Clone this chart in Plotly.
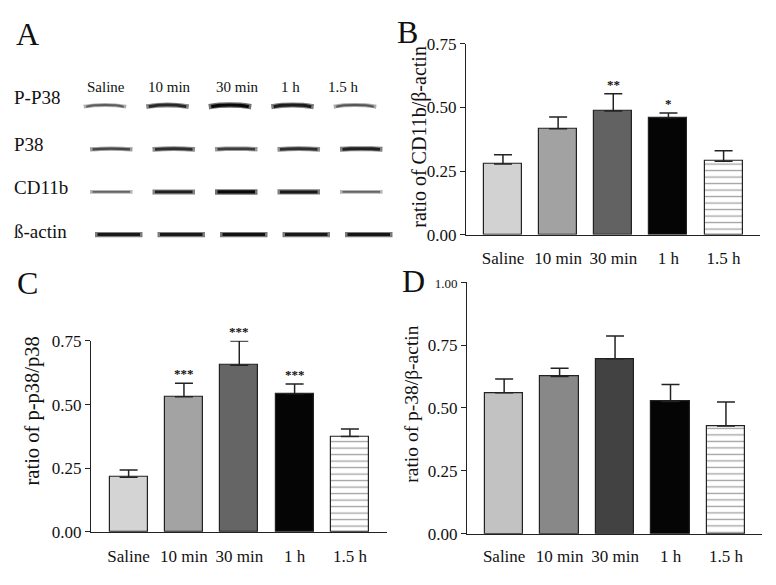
import plotly.graph_objects as go

# ---------------- data ----------------
groups = ["Saline", "10 min", "30 min", "1 h", "1.5 h"]

# Panel B: ratio of CD11b/β-actin
b_mean = [0.278, 0.416, 0.486, 0.460, 0.289]
b_sem = [0.036, 0.047, 0.068, 0.018, 0.041]
b_sig = ["", "", "**", "*", ""]

# Panel C: ratio of p-p38/p38
c_mean = [0.215, 0.531, 0.654, 0.542, 0.375]
c_sem = [0.028, 0.053, 0.095, 0.039, 0.029]
c_sig = ["", "***", "***", "***", ""]

# Panel D: ratio of p-38/β-actin
d_mean = [0.560, 0.625, 0.695, 0.525, 0.428]
d_sem = [0.055, 0.033, 0.091, 0.068, 0.095]
d_sig = ["", "", "", "", ""]

# Panel A: western blot band intensities (relative darkness 0-1)
blot_rows = ["P-P38", "P38", "CD11b", "ß-actin"]
blot_pp38 = [0.45, 0.80, 1.00, 0.88, 0.50]
blot_p38 = [0.60, 0.75, 0.65, 0.75, 0.85]
blot_cd11b = [0.40, 0.85, 1.00, 0.90, 0.40]
blot_actin = [0.90, 0.90, 0.95, 0.90, 0.92]

b_ticks = [0, 0.25, 0.5, 0.75]
c_ticks = [0, 0.25, 0.5, 0.75]
d_ticks = [0, 0.25, 0.5, 0.75, 1.0]

# ---------------- style ----------------
W, H = 776, 585
SERIF = "Liberation Serif"
TXT = "#111111"
bar_colors_b = ["#d2d2d2", "#a2a2a2", "#626262", "#050505", "#ffffff"]
bar_colors_c = ["#d4d4d4", "#a3a3a3", "#656565", "#050505", "#ffffff"]
bar_colors_d = ["#c2c2c2", "#888888", "#424242", "#050505", "#ffffff"]


def px_x(p):
    return p / W


def px_y(p):
    return 1 - p / H


fig = go.Figure()


def add_panel(mean, sem, sig, colors, xa, ya):
    fig.add_trace(go.Bar(
        x=list(range(len(groups))), y=mean,
        xaxis=xa, yaxis=ya, width=0.69,
        marker=dict(
            color=colors,
            line=dict(color="#222222", width=1.2),
            pattern=dict(shape=["", "", "", "", "-"], fgcolor="#111111",
                         bgcolor="white", size=6.5, solidity=0.2),
        ),
        error_y=dict(type="data", symmetric=False, array=sem,
                     arrayminus=[0] * len(sem), color="#222222",
                     thickness=1.5, width=9),
        showlegend=False, hoverinfo="skip",
    ))
    for i, s in enumerate(sig):
        if s:
            fig.add_annotation(x=i, y=mean[i] + sem[i], xref=xa, yref=ya,
                               text=f"<b>{s}</b>", showarrow=False,
                               yanchor="bottom", yshift=0,
                               font=dict(family=SERIF, size=13, color=TXT))


add_panel(b_mean, b_sem, b_sig, bar_colors_b, "x", "y")
add_panel(c_mean, c_sem, c_sig, bar_colors_c, "x2", "y2")
add_panel(d_mean, d_sem, d_sig, bar_colors_d, "x3", "y3")

# ---------------- blot (panel A) ----------------
blot_data = [blot_pp38, blot_p38, blot_cd11b, blot_actin]
row_shift = [-0.08, 0.02, 0.02, 0.14]
row_half = [0.34, 0.34, 0.34, 0.38]
row_arc = [0.04, 0.015, 0.0, 0.0]
for r, vals in enumerate(blot_data):
    for lane, v in enumerate(vals):
        cx = lane + row_shift[r]
        hw = row_half[r]
        xs = [cx - hw, cx - hw / 2, cx, cx + hw / 2, cx + hw]
        ys = [r, r - row_arc[r] * 0.8, r - row_arc[r], r - row_arc[r] * 0.8, r]
        g_out = int(225 - 110 * v)
        g_in = int(160 - 150 * v)
        fig.add_trace(go.Scatter(
            x=xs, y=ys, mode="lines", xaxis="x4", yaxis="y4",
            line=dict(color=f"rgb({g_out},{g_out},{g_out})", width=2.5 + 3 * v,
                      shape="spline"),
            showlegend=False, hoverinfo="skip"))
        fig.add_trace(go.Scatter(
            x=[xs[0] + 0.04] + xs[1:4] + [xs[4] - 0.04],
            y=ys, mode="lines", xaxis="x4", yaxis="y4",
            line=dict(color=f"rgb({g_in},{g_in},{g_in})", width=1.0 + 2.2 * v,
                      shape="spline"),
            showlegend=False, hoverinfo="skip"))

# row labels
row_label_y = [91, 140, 185, 230]
for lab, yy in zip(blot_rows, row_label_y):
    fig.add_annotation(x=px_x(12), y=px_y(yy), xref="paper", yref="paper",
                       text=lab, showarrow=False, xanchor="left", yanchor="middle",
                       font=dict(family=SERIF, size=19, color=TXT))
# lane labels
lane_label_x = [106, 169, 237, 290, 343]
for lab, xx in zip(groups, lane_label_x):
    fig.add_annotation(x=px_x(xx), y=px_y(81), xref="paper", yref="paper",
                       text=lab, showarrow=False, xanchor="center", yanchor="middle",
                       font=dict(family=SERIF, size=15, color=TXT))

# panel letters
for lab, xx, yy in [("A", 14, 26), ("B", 395, 24), ("C", 15, 283), ("D", 400, 281)]:
    fig.add_annotation(x=px_x(xx), y=px_y(yy), xref="paper", yref="paper",
                       text=lab, showarrow=False, xanchor="left", yanchor="middle",
                       font=dict(family=SERIF, size=32, color=TXT))

# y-axis titles
for txt, xx, yy, sz in [("ratio of CD11b/β-actin", 420, 132, 20),
                        ("ratio of p-p38/p38", 32, 416, 20.5),
                        ("ratio of p-38/β-actin", 412, 409, 19.5)]:
    fig.add_annotation(x=px_x(xx), y=px_y(yy), xref="paper", yref="paper",
                       text=txt, textangle=-90, showarrow=False,
                       xanchor="center", yanchor="middle",
                       font=dict(family=SERIF, size=sz, color=TXT))


# ---------------- axes ----------------
def xaxis_cfg(dom, rng, standoff, anchor):
    return dict(domain=dom, range=rng, anchor=anchor, showline=True,
                linecolor="#222222", linewidth=1.3, tickmode="array",
                tickvals=list(range(len(groups))),
                ticktext=groups, ticks="outside", ticklen=standoff,
                tickcolor="rgba(0,0,0,0)", showgrid=False, zeroline=False,
                tickfont=dict(family=SERIF, size=17, color=TXT), fixedrange=True)


def yaxis_cfg(dom, rng, ticks, anchor, ticktext=None):
    return dict(domain=dom, range=rng, anchor=anchor, showline=True,
                linecolor="#222222", linewidth=1.3, tickmode="array", tickvals=ticks,
                ticktext=ticktext if ticktext else [f"{t:.2f}" for t in ticks],
                ticks="outside", ticklen=5, tickcolor="#222222", tickwidth=1.3,
                showgrid=False, zeroline=False,
                tickfont=dict(family=SERIF, size=17, color=TXT), fixedrange=True)


d_ticktext = [f"{t:.2f}" for t in d_ticks]
d_ticktext[-1] = '<span style="font-size:13px">1.00</span>'

fig.update_layout(
    width=W, height=H, margin=dict(l=0, r=0, t=0, b=0),
    paper_bgcolor="white", plot_bgcolor="white",
    bargap=0,
    xaxis=xaxis_cfg([px_x(466), px_x(760)], [-0.67, 4.66], 8, "y"),
    yaxis=yaxis_cfg([px_y(233.3), px_y(36)], [0, 0.75], b_ticks, "x"),
    xaxis2=xaxis_cfg([px_x(91), px_x(387)], [-0.68, 4.67], 9, "y2"),
    yaxis2=yaxis_cfg([px_y(540.5), px_y(343)], [0, 0.75], c_ticks, "x2"),
    xaxis3=xaxis_cfg([px_x(467), px_x(762)], [-0.67, 4.65], 7, "y3"),
    yaxis3=yaxis_cfg([px_y(542.3), px_y(282.3)], [0, 1.0], d_ticks, "x3",
                     d_ticktext),
    xaxis4=dict(domain=[0, px_x(400)], range=[-1.76, 4.64],
                visible=False, anchor="y4", fixedrange=True),
    yaxis4=dict(domain=[px_y(260), px_y(60)], range=[3.61, -0.93], visible=False,
                anchor="x4", fixedrange=True),
)

fig.write_html("out.html", config={"displayModeBar": False},
               post_script="document.body.style.margin='0';"
                           "document.body.style.padding='0';")
